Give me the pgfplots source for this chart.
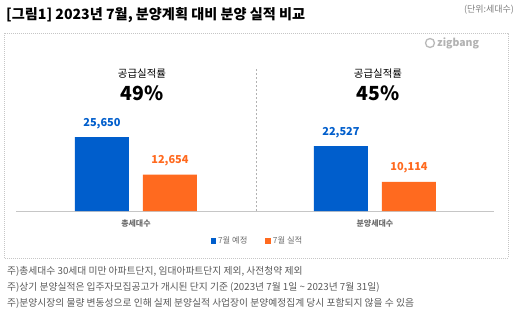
\documentclass[border=0pt]{standalone}
\usepackage{pgfplots}
\pgfplotsset{compat=1.18}
\usepackage{fontspec}
\setmainfont{Noto Sans CJK KR}
\definecolor{zblue}{RGB}{0,94,204}
\definecolor{zorange}{RGB}{255,106,31}
\definecolor{ftgray}{RGB}{90,90,90}
\definecolor{lggray}{RGB}{110,110,110}
\begin{document}
\begin{tikzpicture}[x=1bp,y=1bp]
\fill[white] (0,0) rectangle (518,333);
\path[use as bounding box] (0,0) rectangle (518,333);
% title
\node[anchor=west, inner sep=0pt, font=\bfseries\fontsize{14.2}{16}\selectfont] at (6,318) {[그림1] 2023년 7월, 분양계획 대비 분양 실적 비교};
\node[inner sep=0pt, text=gray, font=\fontsize{9}{10}\selectfont] at (489,323) {(단위:세대수)};
% frame
\draw[gray!45, dash pattern=on 1bp off 1bp] (4,300) rectangle (508,75);
% logo
\draw[gray!55, line width=1.3bp] (430,290) circle (4.5bp);
\node[anchor=west, inner sep=0pt, text=gray!60, font=\bfseries\fontsize{10.5}{12}\selectfont] at (437,290) {zigbang};
% rates
\node[inner sep=0pt, font=\fontsize{10.5}{12}\selectfont] at (142,259) {공급실적률};
\node[inner sep=0pt, font=\bfseries\fontsize{19.5}{22}\selectfont] at (142,240) {49\%};
\node[inner sep=0pt, font=\fontsize{10.5}{12}\selectfont] at (378,259) {공급실적률};
\node[inner sep=0pt, font=\bfseries\fontsize{19.5}{22}\selectfont] at (378,240) {45\%};
\begin{axis}[
  at={(16bp,122bp)}, anchor=south west,
  scale only axis, width=478bp, height=150bp,
  xmin=-0.502, xmax=1.498, ymin=0, ymax=52000,
  axis x line*=bottom, axis y line=none,
  x axis line style={gray!45, line width=0.8bp, -},
  xtick={0,1}, xticklabels={총세대수,분양세대수},
  major tick length=0pt,
  xticklabel style={font=\bfseries\fontsize{8}{9}\selectfont, text=lggray, yshift=-5bp},
  ybar, bar width=54bp,
  clip=false,
  /pgf/number format/.cd, 1000 sep={,}, assume math mode=true,
  /pgfplots/.cd,
  nodes near coords,
  nodes near coords style={font=\bfseries\fontsize{11}{13}\selectfont, yshift=5bp},
  legend style={at={(0.505,-0.2)}, anchor=center, draw=none, fill=none,
    legend columns=2, font=\fontsize{8.3}{9}\selectfont, text=lggray,
    /tikz/every even column/.append style={column sep=16bp},
    inner sep=0pt},
  legend image code/.code={\fill[#1] (0bp,-2.8bp) rectangle (5.6bp,2.8bp);},
]
\addplot[fill=zblue, draw=none, bar shift=-34bp, nodes near coords style={text=zblue}] coordinates {(0,25650) (1,22527)};
\addplot[fill=zorange, draw=none, bar shift=34bp, nodes near coords style={text=zorange}] coordinates {(0,12654) (1,10114)};
\legend{7월 예정, 7월 실적}
\draw[gray!60, dash pattern=on 2bp off 2bp] (axis cs:0.502,0) -- (axis cs:0.502,49500);
\end{axis}
% footnotes
\node[anchor=west, inner sep=0pt, text=ftgray, font=\fontsize{9.8}{11}\selectfont] at (7,62) {주)총세대수 30세대 미만 아파트단지, 임대아파트단지 제외, 사전청약 제외};
\node[anchor=west, inner sep=0pt, text=ftgray, font=\fontsize{9.8}{11}\selectfont] at (7,46) {주)상기 분양실적은 입주자모집공고가 개시된 단지 기준 (2023년 7월 1일 \textasciitilde{} 2023년 7월 31일)};
\node[anchor=west, inner sep=0pt, text=ftgray, font=\fontsize{9.8}{11}\selectfont] at (7,30) {주)분양시장의 물량 변동성으로 인해 실제 분양실적 사업장이 분양예정집계 당시 포함되지 않을 수 있음};
\end{tikzpicture}
\end{document}
